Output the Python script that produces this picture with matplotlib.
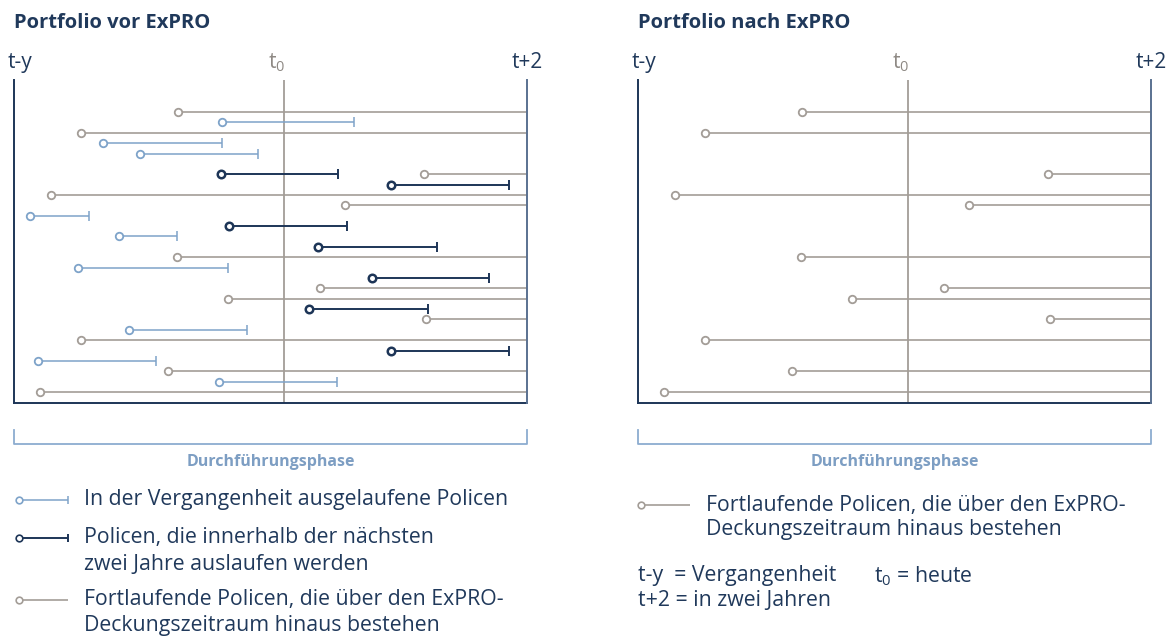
import matplotlib.pyplot as plt

plt.rcParams['font.family'] = ['Open Sans', 'DejaVu Sans']
plt.rcParams['mathtext.fontset'] = 'custom'
plt.rcParams['mathtext.rm'] = 'Open Sans'

# time axis: 0 = t-y, 1 = t+2 ; rows counted from the top
T0 = 0.526

# in der Vergangenheit ausgelaufen (hellblau)
past_rows = [1, 3, 4, 10, 12, 15, 21, 24, 26]
past_start = [0.405, 0.174, 0.245, 0.032, 0.204, 0.125, 0.225, 0.046, 0.400]
past_end = [0.662, 0.405, 0.475, 0.146, 0.318, 0.417, 0.455, 0.277, 0.630]

# laufen in den naechsten zwei Jahren aus (dunkelblau)
soon_rows = [6, 7, 11, 13, 16, 19, 23]
soon_start = [0.403, 0.735, 0.419, 0.593, 0.697, 0.576, 0.734]
soon_end = [0.632, 0.964, 0.649, 0.824, 0.926, 0.807, 0.964]

# fortlaufende Policen (grau)
run_rows = [0, 2, 6, 8, 9, 14, 17, 18, 20, 22, 25, 27]
run_start = [0.319, 0.130, 0.800, 0.072, 0.646, 0.318, 0.597, 0.418, 0.803, 0.130, 0.300, 0.051]

NAVY = '#1d3557'
TEXT = '#20395b'
LIGHT = '#7ea3c9'
GREY = '#a39d97'
SLATE = '#5a7191'
BRACKET = '#8cacd0'

W, H = 1174, 636
fig = plt.figure(figsize=(W / 100, H / 100), dpi=100)

# overlay in pixel coordinates for text and legend
ov = fig.add_axes([0, 0, 1, 1])
ov.set_xlim(0, W)
ov.set_ylim(H, 0)
ov.axis('off')


def policy(ax, y, x0, x1, color, lw, mew, tick):
    ax.plot([x0, x1], [y, y], color=color, lw=lw, solid_capstyle='butt', zorder=3, clip_on=False)
    ax.plot([x0], [y], 'o', ms=5.4, mfc='white', mec=color, mew=mew, zorder=4, clip_on=False)
    if tick:
        ax.plot([x1], [y], '|', ms=6.5, mec=color, mew=lw, zorder=4, clip_on=False)


def panel(left, title, with_ended):
    right = left + 513
    ax = fig.add_axes([left / W, (H - 403) / H, (right - left) / W, 323 / H])
    ax.set_xlim(0, 1)
    ax.set_ylim(28.06, -3.09)
    ax.axis('off')
    ax.plot([0, 0], [28.06, -3.09], color=NAVY, lw=1.4, clip_on=False, zorder=2)
    ax.plot([0, 1], [28.06, 28.06], color=NAVY, lw=1.4, clip_on=False, zorder=2)
    ax.plot([1, 1], [28.06, -3.09], color=SLATE, lw=1.4, clip_on=False, zorder=5)
    ax.plot([T0, T0], [28.06, -3.09], color=GREY, lw=1.3, zorder=1)

    for k, s in zip(run_rows, run_start):
        policy(ax, k, s, 1, GREY, 1.2, 1.3, False)
    if with_ended:
        for k, s, e in zip(past_rows, past_start, past_end):
            policy(ax, k, s, e, LIGHT, 1.1, 1.3, True)
        for k, s, e in zip(soon_rows, soon_start, soon_end):
            policy(ax, k, s, e, NAVY, 1.4, 1.8, True)

    # labels above the timeline
    ov.text(left - 6, 68, 't-y', fontsize=15, color=TEXT, ha='left', va='baseline')
    ov.text(left + T0 * (right - left) + 1, 68, r't$_\mathregular{0}$', fontsize=15, color='#8e8984',
            ha='right', va='baseline')
    ov.text(right, 68, 't+2', fontsize=15, color=TEXT, ha='center', va='baseline')
    ov.text(left, 28, title, fontsize=14.5, fontweight='bold', color=TEXT, ha='left', va='baseline')

    # Durchfuehrungsphase bracket
    ov.plot([left, left, right, right], [430, 443.5, 443.5, 430], color=BRACKET, lw=1.3)
    ov.text((left + right) / 2, 466, 'Durchführungsphase', fontsize=11.5, fontweight='bold',
            color='#7d9ec3', ha='center', va='baseline')
    return ax


panel(14, 'Portfolio vor ExPRO', True)
panel(638, 'Portfolio nach ExPRO', False)


def legend_item(x, y, color, lw, tick):
    ov.plot([x, x + 49], [y, y], color=color, lw=lw, solid_capstyle='butt', zorder=3)
    ov.plot([x], [y], 'o', ms=4.8, mfc='white', mec=color, mew=1.2, zorder=4)
    if tick:
        ov.plot([x + 49], [y], '|', ms=6, mec=color, mew=lw, zorder=4)


LS = 15.3
legend_item(19, 500, LIGHT, 1.1, True)
ov.text(84, 500, 'In der Vergangenheit ausgelaufene Policen', fontsize=LS, color=TEXT, va='center')
legend_item(19, 538, NAVY, 1.4, True)
ov.text(84, 538, 'Policen, die innerhalb der nächsten', fontsize=LS, color=TEXT, va='center')
ov.text(84, 564, 'zwei Jahre auslaufen werden', fontsize=LS, color=TEXT, va='center')
legend_item(19, 600, GREY, 1.2, False)
ov.text(84, 600, 'Fortlaufende Policen, die über den ExPRO-', fontsize=LS, color=TEXT, va='center')
ov.text(84, 626, 'Deckungszeitraum hinaus bestehen', fontsize=LS, color=TEXT, va='center')

legend_item(641, 505, GREY, 1.2, False)
ov.text(706, 505, 'Fortlaufende Policen, die über den ExPRO-', fontsize=LS, color=TEXT, va='center')
ov.text(706, 529, 'Deckungszeitraum hinaus bestehen', fontsize=LS, color=TEXT, va='center')
ov.text(638, 576, 't-y  = Vergangenheit', fontsize=LS, color=TEXT, va='center')
ov.text(874, 576, r't$_\mathregular{0}$ = heute', fontsize=LS, color=TEXT, va='center')
ov.text(638, 600, 't+2 = in zwei Jahren', fontsize=LS, color=TEXT, va='center')

fig.savefig('out.png', dpi=100)
